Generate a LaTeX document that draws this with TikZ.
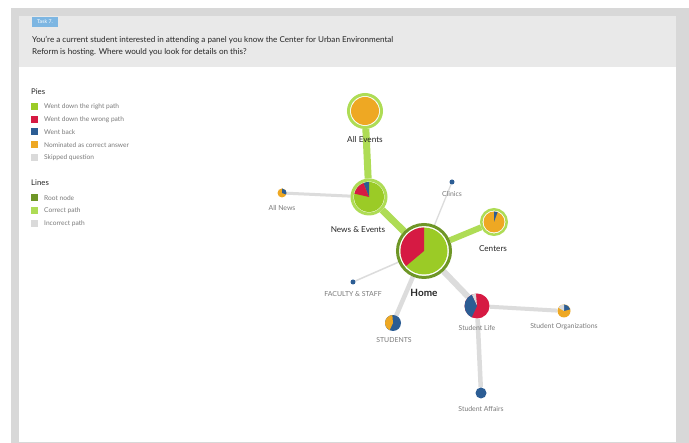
\documentclass[tikz,border=0pt]{standalone}
\usepackage{fontspec}
\setmainfont{Lato}

\definecolor{framegray}{HTML}{D8D8D8}
\definecolor{headgray}{HTML}{E9E9E9}
\definecolor{taskblue}{HTML}{7DB6E2}
\definecolor{darktext}{HTML}{262626}
\definecolor{softtext}{HTML}{7A7A7A}
\definecolor{pgreen}{HTML}{9BCB26}
\definecolor{lgreen}{HTML}{AEDC55}
\definecolor{rootgreen}{HTML}{6E9626}
\definecolor{pred}{HTML}{D61A43}
\definecolor{pblue}{HTML}{2C5D94}
\definecolor{porange}{HTML}{EEA823}
\definecolor{pgray}{HTML}{DADADA}
\definecolor{edgegray}{HTML}{DCDCDC}

\pgfdeclarelayer{frame}
\pgfdeclarelayer{edges}
\pgfsetlayers{frame,edges,main}

% filled pie wedge: node, radius (pt), start angle, end angle, colour
\newcommand{\wedgefill}[5]{\fill[#5] (#1.center) -- +(#3:#2pt) arc[start angle=#3, end angle=#4, radius=#2pt] -- cycle;}

\begin{document}
\begin{tikzpicture}[x=1pt,y=1pt,
  ringnode/.style={circle, inner sep=0pt, fill=white, line width=3pt},
  dotnode/.style={circle, inner sep=0pt, fill=pblue},
  okline/.style={draw=lgreen},
  badline/.style={draw=edgegray},
  mainlbl/.style={font=\fontsize{8.2}{9}\selectfont, text=darktext, inner sep=0pt},
  sublbl/.style={font=\fontsize{6.9}{8}\selectfont, text=softtext, inner sep=0pt},
  legsq/.style={rectangle, inner sep=0pt, minimum size=7pt},
  legtxt/.style={anchor=west, font=\fontsize{6.6}{7}\selectfont, text=softtext, inner sep=0pt},
  legtitle/.style={anchor=west, font=\fontsize{7.8}{8}\selectfont, text=darktext, inner sep=0pt},
  qtext/.style={anchor=base west, font=\fontsize{8.1}{9}\selectfont, text=darktext, inner sep=0pt}
]
\useasboundingbox (0,0) rectangle (689,443);

% page frame
\begin{pgfonlayer}{frame}
  \fill[white] (0,0) rectangle (689,443);
  \fill[framegray] (11,0) rectangle (689,435);
  \fill[white] (19,1) rectangle (676,376);
  \fill[headgray] (19,376) rectangle (676,427);
\end{pgfonlayer}

% header
\node[fill=taskblue, text=white, font=\fontsize{5.2}{6}\selectfont, minimum width=26pt, minimum height=10pt, inner sep=0pt] (task) at (45,421) {Task 7.};
\node[qtext] (q1) at (32,400) {You're a current student interested in attending a panel you know the Center for Urban Environmental};
\node[qtext] (q2) at (32,388) {Reform is hosting. Where would you look for details on this?};

% legend: pies
\node[legtitle] (piestitle) at (31,351) {Pies};
\node[legsq, fill=pgreen] (k1) at (34.5,336) {};
\node[legtxt] (t1) at (44,336) {Went down the right path};
\node[legsq, fill=pred] (k2) at (34.5,323) {};
\node[legtxt] (t2) at (44,323) {Went down the wrong path};
\node[legsq, fill=pblue] (k3) at (34.5,311) {};
\node[legtxt] (t3) at (44,311) {Went back};
\node[legsq, fill=porange] (k4) at (34.5,298) {};
\node[legtxt] (t4) at (44,298) {Nominated as correct answer};
\node[legsq, fill=pgray] (k5) at (34.5,285) {};
\node[legtxt] (t5) at (44,285) {Skipped question};

% legend: lines
\node[legtitle] (linestitle) at (31,260) {Lines};
\node[legsq, fill=rootgreen] (k6) at (34.5,245) {};
\node[legtxt] (t6) at (44,245) {Root node};
\node[legsq, fill=lgreen] (k7) at (34.5,232) {};
\node[legtxt] (t7) at (44,232) {Correct path};
\node[legsq, fill=pgray] (k8) at (34.5,219) {};
\node[legtxt] (t8) at (44,219) {Incorrect path};

% tree nodes
\node[ringnode, draw=lgreen, minimum size=33pt] (allev) at (365,332) {};
\node[ringnode, draw=lgreen, minimum size=34pt] (news) at (369,246) {};
\node[ringnode, draw=rootgreen, minimum size=53pt] (home) at (424,192) {};
\node[ringnode, draw=lgreen, line width=2.5pt, minimum size=25.5pt] (centers) at (494,221) {};
\node[dotnode, minimum size=5pt] (clinics) at (452,261) {};
\node[dotnode, minimum size=9pt, fill=porange] (allnews) at (282,250) {};
\node[dotnode, minimum size=5pt] (faculty) at (353,161) {};
\node[dotnode, minimum size=16pt] (students) at (393,120) {};
\node[dotnode, minimum size=25pt, fill=pred] (life) at (477,137) {};
\node[dotnode, minimum size=13pt, fill=porange] (orgs) at (564,132) {};
\node[dotnode, minimum size=11pt] (affairs) at (481,50) {};

% connectors
\begin{pgfonlayer}{edges}
  \draw[okline, line width=7pt] (home) -- (news);
  \draw[okline, line width=7pt] (news) -- (allev);
  \draw[okline, line width=6pt] (home) -- (centers);
  \draw[badline, line width=1.3pt] (home) -- (clinics);
  \draw[badline, line width=1.5pt] (home) -- (faculty);
  \draw[badline, line width=4.5pt] (home) -- (students);
  \draw[badline, line width=6pt] (home) -- (life);
  \draw[badline, line width=4pt] (life) -- (orgs);
  \draw[badline, line width=4.5pt] (life) -- (affairs);
  \draw[badline, line width=3pt] (news) -- (allnews);
\end{pgfonlayer}

% pies
\fill[porange] (allev.center) circle[radius=14pt];
\fill[pgreen] (news.center) circle[radius=15pt];
\wedgefill{news}{15}{90}{112}{pblue}
\wedgefill{news}{15}{112}{167}{pred}
\fill[pgreen] (home.center) circle[radius=23.5pt];
\wedgefill{home}{23.5}{90}{220}{pred}
\fill[porange] (centers.center) circle[radius=10.5pt];
\wedgefill{centers}{10.5}{70}{90}{pblue}
\wedgefill{allnews}{4.5}{-20}{90}{pblue}
\wedgefill{students}{8}{95}{245}{porange}
\wedgefill{life}{12.5}{95}{115}{pgray}
\wedgefill{life}{12.5}{115}{245}{pblue}
\wedgefill{orgs}{6.5}{15}{90}{pblue}
\wedgefill{orgs}{6.5}{90}{150}{pgray}

% labels
\node[mainlbl] (allevlbl) at (365,303) {All Events};
\node[mainlbl] (newslbl) at (358,213) {News \& Events};
\node[mainlbl, font=\fontsize{10}{11}\selectfont\bfseries] (homelbl) at (424,150) {Home};
\node[mainlbl] (centerslbl) at (493,194) {Centers};
\node[sublbl] (clinicslbl) at (452,249) {Clinics};
\node[sublbl] (allnewslbl) at (282,235) {All News};
\node[sublbl] (facultylbl) at (353,149) {FACULTY \& STAFF};
\node[sublbl] (studentslbl) at (394,103) {STUDENTS};
\node[sublbl] (lifelbl) at (477,115) {Student Life};
\node[sublbl] (orgslbl) at (564,116) {Student Organizations};
\node[sublbl] (affairslbl) at (481,34) {Student Affairs};
\end{tikzpicture}
\end{document}
